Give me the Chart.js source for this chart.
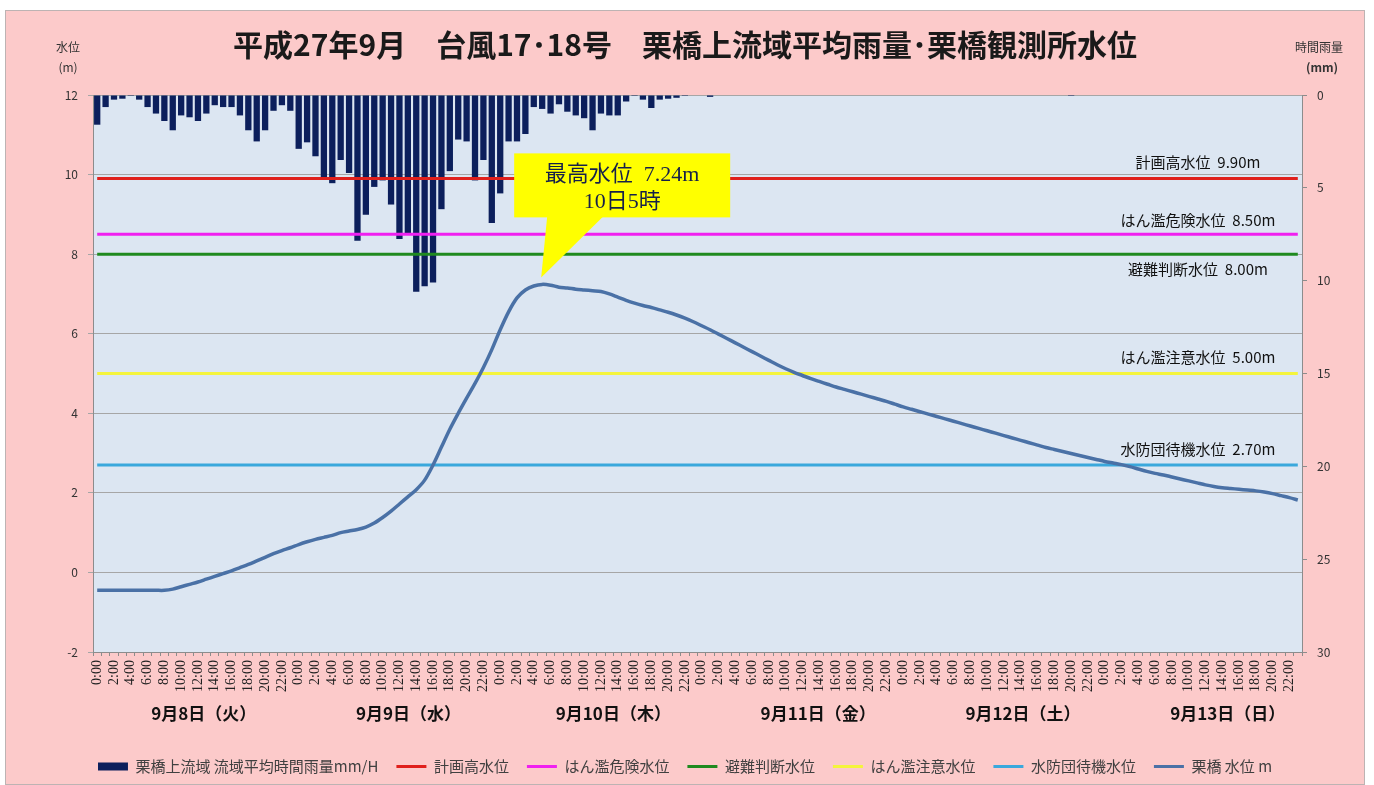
<!DOCTYPE html>
<html lang="ja">
<head>
<meta charset="utf-8">
<title>栗橋 雨量・水位</title>
<script src="https://cdn.jsdelivr.net/npm/chart.js@4.4.1/dist/chart.umd.min.js"></script>
<style>
  html, body { margin: 0; padding: 0; background: #fff; }
  #frame { position: absolute; left: 5px; top: 10px; width: 1358px; height: 773px; border: 1px solid #bdb3b3; background: #fccaca; }
  canvas { display: block; }
</style>
</head>
<body>
<div id="frame"><canvas id="chart-1" width="1358" height="773"></canvas></div>
<script>
const days = ["9月8日（火）", "9月9日（水）", "9月10日（木）", "9月11日（金）", "9月12日（土）", "9月13日（日）"];
const hours = ["0:00", "1:00", "2:00", "3:00", "4:00", "5:00", "6:00", "7:00", "8:00", "9:00", "10:00", "11:00",
  "12:00", "13:00", "14:00", "15:00", "16:00", "17:00", "18:00", "19:00", "20:00", "21:00", "22:00", "23:00"];

// 栗橋上流域 流域平均時間雨量 (mm/H), 1時間毎
const rainfall = [
  1.6, 0.65, 0.25, 0.2, 0.05, 0.25, 0.65, 1.0, 1.4, 1.9, 1.1, 1.2, 1.4, 1.0, 0.55, 0.65, 0.65, 1.1, 1.9, 2.5, 1.9, 0.85, 0.55, 0.85,
  2.9, 2.55, 3.3, 4.5, 4.75, 3.5, 4.2, 7.85, 6.45, 4.95, 4.6, 5.9, 7.75, 7.45, 10.6, 10.3, 10.1, 6.15, 4.1, 2.4, 2.5, 4.6, 3.5, 6.9,
  5.3, 2.5, 2.5, 2.1, 0.65, 0.75, 1.0, 0.5, 0.9, 1.1, 1.25, 1.9, 1.0, 1.1, 1.1, 0.35, 0.05, 0.25, 0.7, 0.25, 0.2, 0.15, 0.05, 0,
  0, 0.1, 0, 0, 0, 0, 0, 0, 0, 0, 0, 0, 0, 0, 0, 0, 0, 0, 0, 0, 0, 0, 0, 0,
  0, 0, 0, 0, 0, 0, 0, 0, 0, 0, 0, 0, 0, 0, 0, 0, 0, 0, 0, 0, 0.05, 0, 0, 0,
  0, 0, 0, 0, 0, 0, 0, 0, 0, 0, 0, 0, 0, 0, 0, 0, 0, 0, 0, 0, 0, 0, 0, 0
];

// 栗橋 水位 (m)
const waterLevel = [
  -0.45, -0.45, -0.45, -0.45, -0.45, -0.45, -0.45, -0.45, -0.45, -0.42, -0.36, -0.3, -0.24, -0.17, -0.1, -0.03, 0.04, 0.12, 0.2, 0.29, 0.38, 0.47, 0.55, 0.62,
  0.7, 0.77, 0.83, 0.88, 0.93, 1.0, 1.04, 1.08, 1.14, 1.24, 1.38, 1.54, 1.72, 1.9, 2.08, 2.32, 2.7, 3.15, 3.6, 4.0, 4.38, 4.75, 5.15, 5.6,
  6.1, 6.55, 6.9, 7.1, 7.2, 7.24, 7.22, 7.17, 7.15, 7.12, 7.1, 7.08, 7.06, 7.0, 6.92, 6.84, 6.77, 6.71, 6.66, 6.6, 6.54, 6.47, 6.39, 6.3,
  6.2, 6.1, 5.99, 5.88, 5.77, 5.66, 5.55, 5.44, 5.33, 5.22, 5.12, 5.03, 4.95, 4.87, 4.8, 4.73, 4.66, 4.6, 4.54, 4.48, 4.42, 4.36, 4.3, 4.23,
  4.16, 4.1, 4.04, 3.98, 3.92, 3.86, 3.8, 3.74, 3.68, 3.62, 3.56, 3.5, 3.44, 3.38, 3.32, 3.26, 3.2, 3.14, 3.09, 3.04, 2.99, 2.94, 2.89, 2.84,
  2.79, 2.75, 2.71, 2.66, 2.6, 2.54, 2.49, 2.45, 2.4, 2.35, 2.3, 2.25, 2.2, 2.16, 2.13, 2.11, 2.09, 2.07, 2.05, 2.02, 1.98, 1.93, 1.88, 1.82
];

const thresholdNames = ["計画高水位", "はん濫危険水位", "避難判断水位", "はん濫注意水位", "水防団待機水位"];
const thresholdValues = [9.90, 8.50, 8.00, 5.00, 2.70];
const thresholdColors = ["#e0201c", "#f020f0", "#1f8a1f", "#f4f43c", "#3aa8dc"];
const labelOffsets = [-16, -14, 15, -16, -16];

const levelTicks = [-2, 0, 2, 4, 6, 8, 10, 12];
const rainTicks = [0, 5, 10, 15, 20, 25, 30];

const FONT = "'Noto Sans CJK JP', 'Noto Sans', sans-serif";
const categories = [];
days.forEach(d => hours.forEach(h => categories.push(d + " " + h)));

const peakValue = Math.max(...waterLevel);
const peakIndex = waterLevel.indexOf(peakValue);

const thresholdSets = thresholdNames.map((name, i) => ({
  type: "line",
  label: name,
  data: [{ x: categories[0], y: thresholdValues[i] }, { x: categories[categories.length - 1], y: thresholdValues[i] }],
  borderColor: thresholdColors[i],
  backgroundColor: thresholdColors[i],
  borderWidth: 3,
  pointRadius: 0,
  yAxisID: "y",
  order: 1
}));

const decor = {
  id: "decor",
  beforeDraw(chart) {
    const { ctx, chartArea: a } = chart;
    ctx.save();
    ctx.fillStyle = "#dce6f2";
    ctx.fillRect(a.left, a.top, a.right - a.left, a.bottom - a.top);
    ctx.restore();
  },
  afterDatasetsDraw(chart) {
    const { ctx, chartArea: a } = chart;
    const x = chart.scales.x, y = chart.scales.y;
    ctx.save();
    // threshold captions
    ctx.font = "15px " + FONT;
    ctx.fillStyle = "#111";
    ctx.textAlign = "center";
    ctx.textBaseline = "middle";
    thresholdNames.forEach((name, i) => {
      const ty = y.getPixelForValue(thresholdValues[i]) + labelOffsets[i];
      ctx.fillText(name + "  " + thresholdValues[i].toFixed(2) + "m", a.right - 104, ty);
    });
    // peak callout
    const px = x.getPixelForValue(peakIndex), py = y.getPixelForValue(peakValue);
    ctx.fillStyle = "#ffff00";
    ctx.fillRect(px - 28, py - 131, 216, 64);
    ctx.beginPath();
    ctx.moveTo(px + 5, py - 68);
    ctx.lineTo(px + 61, py - 68);
    ctx.lineTo(px - 1, py - 7);
    ctx.closePath();
    ctx.fill();
    ctx.fillStyle = "#16204a";
    ctx.font = "22px 'Liberation Serif', 'Noto Sans CJK JP'";
    const day = 8 + Math.floor(peakIndex / 24), hr = peakIndex % 24;
    ctx.fillText("最高水位  " + peakValue.toFixed(2) + "m", px + 80, py - 109);
    ctx.fillText(day + "日" + hr + "時", px + 80, py - 82);
    ctx.restore();
  },
  afterDraw(chart) {
    const { ctx } = chart;
    const x = chart.scales.x;
    ctx.save();
    ctx.fillStyle = "#111";
    ctx.textAlign = "center";
    ctx.textBaseline = "middle";
    ctx.font = "bold 17px " + FONT;
    days.forEach((d, i) => {
      const cx = (x.getPixelForValue(i * 24) + x.getPixelForValue(i * 24 + 23)) / 2;
      ctx.fillText(d, cx + 10 + 3.3 * i, 703);
    });
    ctx.font = "12px " + FONT;
    ctx.fillStyle = "#333";
    ctx.fillText("水位", 62, 36);
    ctx.fillText("(m)", 62, 56);
    ctx.fillText("時間雨量", 1313, 36);
    ctx.font = "bold 12px " + FONT;
    ctx.fillText("(mm)", 1316, 56);
    ctx.restore();
  }
};

new Chart(document.getElementById("chart-1"), {
  type: "bar",
  data: {
    labels: categories,
    datasets: [
      {
        type: "bar",
        label: "栗橋上流域 流域平均時間雨量mm/H",
        data: rainfall,
        backgroundColor: "#0c1f5c",
        borderWidth: 0,
        barPercentage: 0.75,
        categoryPercentage: 1.0,
        yAxisID: "y2",
        order: 2
      },
      ...thresholdSets,
      {
        type: "line",
        label: "栗橋 水位 m",
        data: waterLevel,
        borderColor: "#4a71a6",
        backgroundColor: "#4a71a6",
        borderWidth: 3.5,
        pointRadius: 0,
        tension: 0.3,
        yAxisID: "y",
        order: 0
      }
    ]
  },
  options: {
    responsive: false,
    animation: false,
    layout: { padding: 0 },
    plugins: {
      tooltip: { enabled: false },
      title: {
        display: true,
        text: "平成27年9月　台風17･18号　栗橋上流域平均雨量･栗橋観測所水位",
        color: "#1a1a1a",
        font: { size: 30, weight: "bold", family: FONT },
        padding: { top: 16, bottom: 32 }
      },
      legend: {
        position: "bottom",
        labels: {
          usePointStyle: true,
          pointStyleWidth: 30,
          boxHeight: 8,
          padding: 18,
          color: "#404040",
          font: { size: 15, family: FONT },
          sort: (a, b) => a.datasetIndex - b.datasetIndex,
          generateLabels(chart) {
            const items = Chart.defaults.plugins.legend.labels.generateLabels(chart);
            items.forEach(it => {
              const ds = chart.data.datasets[it.datasetIndex];
              it.pointStyle = ds.type === "bar" ? "rect" : "line";
              it.fillStyle = ds.backgroundColor;
              it.strokeStyle = ds.type === "bar" ? ds.backgroundColor : ds.borderColor;
              it.lineWidth = ds.type === "bar" ? 0 : 3;
            });
            return items;
          }
        }
      }
    },
    scales: {
      x: {
        afterFit(scale) { scale.height = 89; },
        grid: { drawOnChartArea: false, tickLength: 4, color: "#8c8c8c", offset: true },
        border: { color: "#8c8c8c" },
        ticks: {
          autoSkip: false,
          minRotation: 90,
          maxRotation: 90,
          padding: 4,
          color: "#222",
          font: { size: 14, family: "'Liberation Serif', serif" },
          callback(value, index) {
            return index % 2 === 0 ? this.getLabelForValue(value).split(" ")[1] : "";
          }
        }
      },
      y: {
        position: "left",
        min: levelTicks[0],
        max: levelTicks[levelTicks.length - 1],
        afterFit(scale) { scale.width = 87; },
        afterBuildTicks(scale) { scale.ticks = levelTicks.map(v => ({ value: v })); },
        grid: { color: "#a6a6a6", tickLength: 5 },
        border: { color: "#8c8c8c" },
        ticks: { padding: 10, color: "#333", font: { size: 12, family: FONT } }
      },
      y2: {
        position: "right",
        reverse: true,
        min: rainTicks[0],
        max: rainTicks[rainTicks.length - 1],
        afterFit(scale) { scale.width = 62; },
        afterBuildTicks(scale) { scale.ticks = rainTicks.map(v => ({ value: v })); },
        grid: { drawOnChartArea: false, tickLength: 5, color: "#8c8c8c" },
        border: { color: "#8c8c8c" },
        ticks: { padding: 10, color: "#333", font: { size: 12, family: FONT } }
      }
    }
  },
  plugins: [decor]
});
</script>
</body>
</html>
